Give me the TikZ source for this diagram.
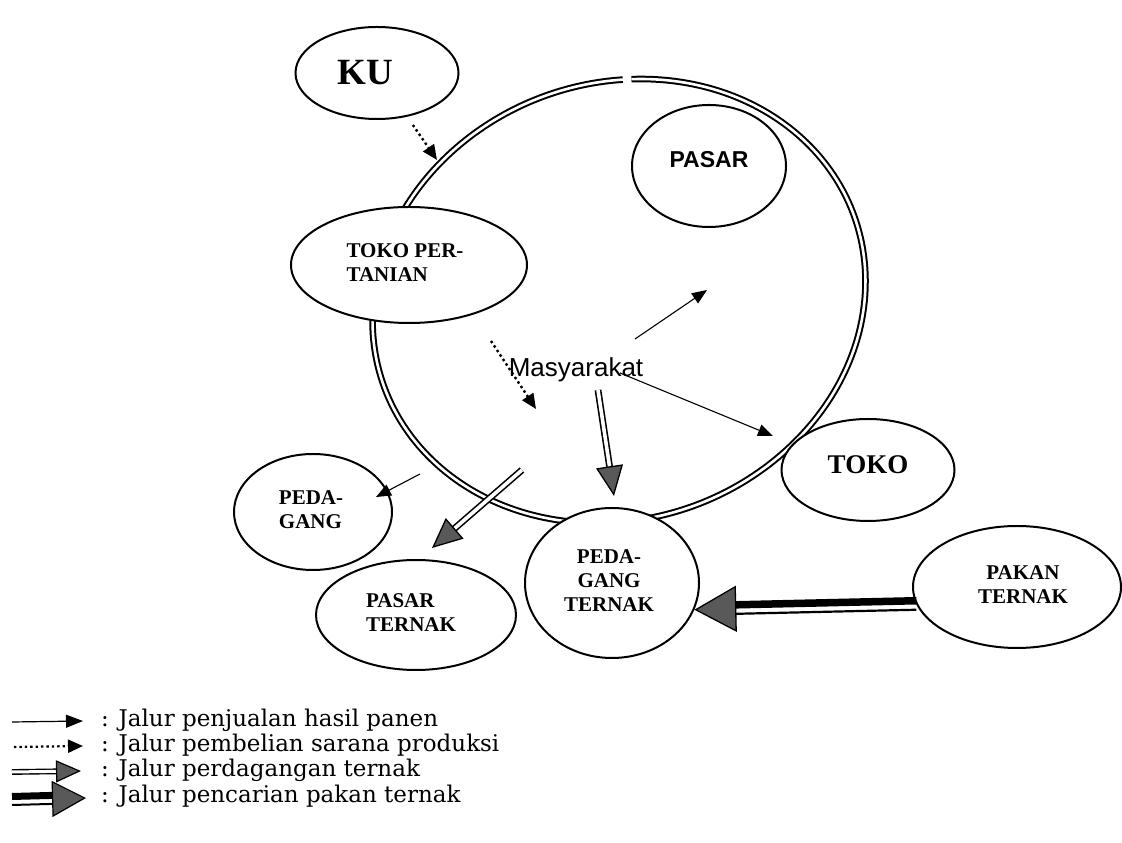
\documentclass[tikz,border=0pt]{standalone}
\usepackage{fontspec}
\newfontfamily\tms{Liberation Serif}
\newfontfamily\hlv{Liberation Sans}
\newfontfamily\dvs{DejaVu Serif}
\usetikzlibrary{shapes.geometric,arrows.meta,calc}
\begin{document}
\begin{tikzpicture}[x=1pt,y=1pt,
  ell/.style={draw,ellipse,line width=2pt,fill=white,inner sep=0pt,
    font=\tms\bfseries\fontsize{21}{24}\selectfont},
  ring/.style={line width=2pt,double=white,double distance=2.6pt},
  thinarrow/.style={line width=1.1pt,-{Triangle[length=15pt,width=12pt]}},
  dotarrow/.style={line width=2.4pt,dash pattern=on 2.4pt off 3pt,
    -{Triangle[length=15pt,width=13pt]}},
  dbl/.style={line width=1.6pt,double=white,double distance=3.6pt},
  ghead/.style={line width=1.3pt,-{Triangle[length=30pt,width=27pt,fill=black!65]}},
  bighead/.style={line width=1.3pt,-{Triangle[length=42pt,width=46pt,fill=black!65]}},
  legtext/.style={anchor=west,inner sep=0pt,font=\dvs\fontsize{23}{25}\selectfont}
]
\useasboundingbox (0,0) rectangle (1122,843);
% ring
\coordinate (c) at (619,542);
\begin{scope}[shift={(c)},rotate=20]
\draw[ring] (71.5:250 and 218) arc[start angle=71.5,end angle=429.5,x radius=250,y radius=218];
\end{scope}
% nodes
\node[ell,minimum width=163,minimum height=92,font=\tms\bfseries\fontsize{37}{40}\selectfont] (ku) at (377,770) {KU\kern24pt};
\node[ell,minimum width=154,minimum height=122,font=\hlv\bfseries\fontsize{23}{26}\selectfont] (pasar) at (709,677) {\raisebox{14pt}{PASAR}};
\node[ell,minimum width=236,minimum height=116] (tp) at (409,578)
  {\raisebox{4pt}{\begin{tabular}{@{}l@{}}TOKO PER-\\TANIAN\end{tabular}}\kern8pt};
\node[ell,minimum width=158,minimum height=116] (pd) at (313,331)
  {\raisebox{5pt}{\begin{tabular}{@{}l@{}}PEDA-\\GANG\end{tabular}}\kern4pt};
\node[ell,minimum width=200,minimum height=110] (psr) at (416,228)
  {\begin{tabular}{@{}l@{}}PASAR\\TERNAK\end{tabular}\kern10pt};
\node[ell,minimum width=174,minimum height=150] (pt) at (612,260)
  {\raisebox{2pt}{\begin{tabular}{@{}c@{}}PEDA-\\GANG\\TERNAK\end{tabular}}\kern6pt};
\node[ell,minimum width=173,minimum height=102,font=\tms\bfseries\fontsize{27}{30}\selectfont] (toko) at (868,373) {\raisebox{10pt}{TOKO}};
\node[ell,minimum width=208,minimum height=122] (pk) at (1017,256)
  {\kern12pt\raisebox{3pt}{\begin{tabular}{@{}c@{}}PAKAN\\TERNAK\end{tabular}}};
\node[font=\hlv\fontsize{26}{30}\selectfont,inner sep=0pt] (mas) at (576,473) {Masyarakat};
% arrows
\coordinate (a1) at (437,683);
\draw[dotarrow,shorten <=10pt] (ku) -- (a1);
\coordinate (b0) at (491,502);
\coordinate (b1) at (536,434);
\draw[dotarrow] (b0) -- (b1);
\coordinate (c0) at (635,504);
\coordinate (c1) at (707,553);
\draw[thinarrow] (c0) -- (c1);
\coordinate (d0) at (620,470);
\coordinate (d1) at (773,407);
\draw[thinarrow] (d0) -- (d1);
\coordinate (e0) at (420,369);
\coordinate (e1) at (376,346);
\draw[thinarrow] (e0) -- (e1);
% double arrows
\coordinate (f0) at (598,453);
\coordinate (f1) at (614,347);
\draw[dbl,shorten >=27pt] (f0) -- (f1);
\draw[ghead] ($(f1)!29pt!(f0)$) -- (f1);
\coordinate (g0) at (522,373);
\coordinate (g1) at (432,295);
\draw[dbl,shorten >=27pt] (g0) -- (g1);
\draw[ghead] ($(g1)!29pt!(g0)$) -- (g1);
% thick arrow
\coordinate (h0) at (pk.190);
\coordinate (h1) at (pt.-18);
\draw[line width=7.5pt,shorten >=38pt] ([yshift=4pt]h0) -- ([yshift=4pt]h1);
\draw[line width=2.2pt,shorten >=38pt] ([yshift=-5pt]h0) -- ([yshift=-5pt]h1);
\draw[bighead] ($(h1)!40pt!(h0)$) -- (h1);
% legend
\coordinate (l1a) at (12,121); \coordinate (l1b) at (83,122);
\draw[line width=1.2pt,-{Triangle[length=17pt,width=13pt]}] (l1a) -- (l1b);
\coordinate (l2a) at (14,96); \coordinate (l2b) at (83,97);
\draw[dotarrow,line width=2.2pt] (l2a) -- (l2b);
\coordinate (l3a) at (12,71); \coordinate (l3b) at (81,72);
\draw[dbl,line width=1.4pt,double distance=3pt,shorten >=22pt] (l3a) -- (l3b);
\draw[line width=1.2pt,-{Triangle[length=25pt,width=22pt,fill=black!65]}] ($(l3b)!24pt!(l3a)$) -- (l3b);
\coordinate (l4a) at (12,43); \coordinate (l4b) at (86,45);
\draw[line width=7pt,shorten >=30pt] ([yshift=3.5pt]l4a) -- ([yshift=3.5pt]l4b);
\draw[line width=2pt,shorten >=30pt] ([yshift=-5pt]l4a) -- ([yshift=-5pt]l4b);
\draw[line width=1.2pt,-{Triangle[length=34pt,width=36pt,fill=black!65]}] ($(l4b)!32pt!(l4a)$) -- (l4b);
\node[legtext] (t1) at (101,123) {: Jalur penjualan hasil panen};
\node[legtext] (t2) at (101,98) {: Jalur pembelian sarana produksi};
\node[legtext] (t3) at (101,73) {: Jalur perdagangan ternak};
\node[legtext] (t4) at (101,47) {: Jalur pencarian pakan ternak};
\end{tikzpicture}
\end{document}
